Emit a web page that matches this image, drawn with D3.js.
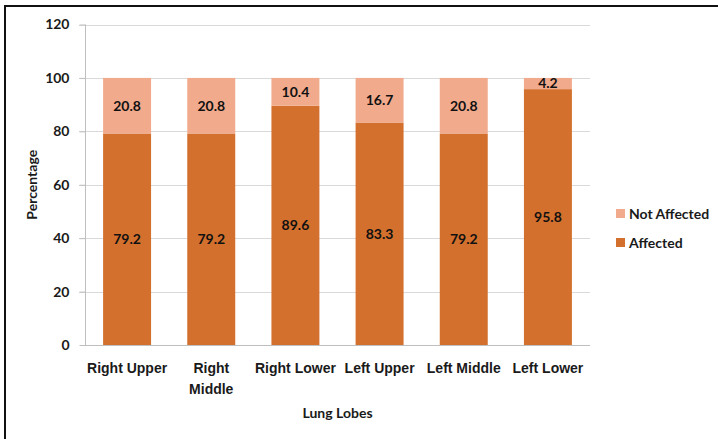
<!DOCTYPE html>
<html>
<head>
<meta charset="utf-8">
<script src="https://cdn.jsdelivr.net/npm/d3@7"></script>
<style>
  html, body { margin: 0; padding: 0; background: #fff; }
  svg { display: block; font-family: Lato, "Open Sans", sans-serif; }
</style>
</head>
<body>
<svg id="chart" width="718" height="439"></svg>
<script>
// Lung lobe involvement (percent of cases)
const lobes = ["Right Upper", "Right Middle", "Right Lower", "Left Upper", "Left Middle", "Left Lower"];
const affected = [79.2, 79.2, 89.6, 83.3, 79.2, 95.8];
const notAffected = [20.8, 20.8, 10.4, 16.7, 20.8, 4.2];
const seriesNames = ["Affected", "Not Affected"];
const yTicks = [0, 20, 40, 60, 80, 100, 120];

const colors = { "Affected": "#D4702D", "Not Affected": "#F1AA8C" };
const FS = 14;

const svg = d3.select("#chart");
const W = 718, H = 439;

// frame lines (top and left edges)
svg.append("rect").attr("x", 4).attr("y", 5).attr("width", W).attr("height", 2).attr("fill", "#111");
svg.append("rect").attr("x", 4).attr("y", 5).attr("width", 2).attr("height", H).attr("fill", "#111");

const plot = { left: 85, right: 590, top: 24.5, bottom: 345 };

const x = d3.scaleBand().domain(lobes).range([plot.left, plot.right]).paddingInner(0.43).paddingOuter(0.215);
const y = d3.scaleLinear().domain([0, 120]).range([plot.bottom, plot.top]);

// gridlines
svg.append("g").selectAll("line").data(yTicks.filter(t => t > 0)).join("line")
  .attr("x1", plot.left - 6).attr("x2", plot.right)
  .attr("y1", d => Math.round(y(d)) + 0.5).attr("y2", d => Math.round(y(d)) + 0.5)
  .attr("stroke", "#d9d9d9").attr("stroke-width", 1);

// y axis
const yAxis = svg.append("g").attr("transform", `translate(${plot.left + 0.5},0)`)
  .call(d3.axisLeft(y).tickValues(yTicks).tickSize(6).tickPadding(10));
yAxis.select(".domain").attr("stroke", "#bfbfbf").attr("d", `M-0,${y(120)}V${y(0)}`);
yAxis.selectAll(".tick line").attr("stroke", "#bfbfbf");
yAxis.selectAll(".tick text").attr("font-size", FS).attr("font-weight", "bold").attr("fill", "#1a1a1a")
  .attr("font-family", "Lato, sans-serif");

// stacked data
const rows = lobes.map((l, i) => ({ lobe: l, "Affected": affected[i], "Not Affected": notAffected[i] }));
const stack = d3.stack().keys(seriesNames)(rows);

const layers = svg.append("g").selectAll("g").data(stack).join("g")
  .attr("fill", d => colors[d.key]);
layers.selectAll("rect").data(d => d).join("rect")
  .attr("x", d => x(d.data.lobe))
  .attr("width", x.bandwidth())
  .attr("y", d => y(d[1]))
  .attr("height", d => y(d[0]) - y(d[1]));

// value labels
stack.forEach(layer => {
  svg.append("g").selectAll("text").data(layer).join("text")
    .attr("x", d => x(d.data.lobe) + x.bandwidth() / 2)
    .attr("y", d => {
      const v = d[1] - d[0];
      return v < 6 ? y(d[1]) + 10 : (y(d[0]) + y(d[1])) / 2 + 5;
    })
    .attr("text-anchor", "middle")
    .attr("font-size", FS).attr("font-weight", "bold").attr("fill", "#111")
    .text(d => (d[1] - d[0]).toFixed(1));
});

// x axis
const xAxis = svg.append("g").attr("transform", `translate(0,${plot.bottom + 0.5})`)
  .call(d3.axisBottom(x).tickSize(0).tickPadding(0));
xAxis.select(".domain").attr("stroke", "#bfbfbf").attr("d", `M${plot.left},0H${plot.right}`);
xAxis.selectAll(".tick text").remove();

const labelLines = {
  "Right Upper": ["Right Upper"],
  "Right Middle": ["Right", "Middle"],
  "Right Lower": ["Right Lower"],
  "Left Upper": ["Left Upper"],
  "Left Middle": ["Left Middle"],
  "Left Lower": ["Left Lower"]
};
xAxis.selectAll(".tick").append("text")
  .attr("text-anchor", "middle").attr("font-size", FS).attr("font-weight", "bold").attr("fill", "#1a1a1a")
  .each(function(d) {
    d3.select(this).selectAll("tspan").data(labelLines[d]).join("tspan")
      .attr("x", 0).attr("y", (t, i) => 27 + i * 21).text(t => t);
  });

// axis titles
svg.append("text").attr("x", (plot.left + plot.right) / 2).attr("y", 418)
  .attr("text-anchor", "middle").attr("font-size", FS).attr("font-weight", "bold").attr("fill", "#1a1a1a")
  .text("Lung Lobes");
svg.append("text").attr("transform", `translate(37,${(plot.top + plot.bottom) / 2}) rotate(-90)`)
  .attr("text-anchor", "middle").attr("font-size", FS).attr("font-weight", "bold").attr("fill", "#1a1a1a")
  .text("Percentage");

// legend
const legendItems = ["Not Affected", "Affected"];
const legend = svg.append("g").selectAll("g").data(legendItems).join("g")
  .attr("transform", (d, i) => `translate(616,${209 + i * 29})`);
legend.append("rect").attr("width", 9).attr("height", 9).attr("fill", d => colors[d]);
legend.append("text").attr("x", 13).attr("y", 10).attr("font-size", FS).attr("font-weight", "bold")
  .attr("fill", "#1a1a1a").text(d => d);
</script>
</body>
</html>
